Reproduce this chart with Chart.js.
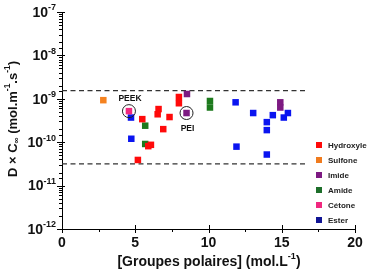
<!DOCTYPE html>
<html>
<head>
<meta charset="utf-8">
<script src="https://cdn.jsdelivr.net/npm/chart.js@4.4.1/dist/chart.umd.min.js"></script>
<style>
  html, body { margin: 0; padding: 0; background: #fff; }
</style>
</head>
<body>
<canvas id="chart" width="367" height="270"></canvas>
<script>
// values: x = polar groups (mol/L), y = D x Cinf (mol/m/s)
const hydroxyleX = [5.18, 5.48, 5.89, 6.07, 6.59, 6.53, 6.91, 7.34, 7.98, 7.98];
const hydroxyleY = [3.9e-11, 3.4e-10, 8.1e-11, 8.7e-11, 5.8e-10, 4.4e-10, 2.0e-10, 3.8e-10, 1.1e-9, 7.9e-10];
const sulfoneX = [2.82];
const sulfoneY = [9.3e-10];
const imideX = [8.53, 8.5, 14.9, 14.9];
const imideY = [1.29e-9, 4.7e-10, 8.3e-10, 6.3e-10];
const amideX = [5.68, 5.68, 10.1, 10.1];
const amideY = [2.4e-10, 9.1e-11, 8.9e-10, 6.3e-10];
const cetoneX = [4.57];
const cetoneY = [5.2e-10];
const esterX = [4.71, 4.73, 11.85, 11.91, 13.05, 13.98, 13.98, 14.39, 15.14, 15.42, 13.98];
const esterY = [3.7e-10, 1.2e-10, 8.3e-10, 7.9e-11, 4.7e-10, 2.9e-10, 1.9e-10, 4.2e-10, 3.7e-10, 4.7e-10, 5.2e-11];

const limitHigh = 1.54e-9;
const limitLow = 3.16e-11;
const limitXEnd = 16.7;

// annotated polymers: [label, x, y]
const marked = [['PEEK', 4.57, 5.2e-10], ['PEI', 8.5, 4.7e-10]];

const yPowers = [-12, -11, -10, -9, -8, -7];

const FAMILY = {
    hydroxyle: { label: 'Hydroxyle', color: '#ff0a0a', legend: '#ff0a0a' },
    sulfone: { label: 'Sulfone', color: '#f5821f', legend: '#f07b1e' },
    imide: { label: 'Imide', color: '#7d1a82', legend: '#7d1a82' },
    amide: { label: 'Amide', color: '#1d7a1d', legend: '#1d6e2a' },
    cetone: { label: 'Cétone', color: '#f0287f', legend: '#f0287f' },
    ester: { label: 'Ester', color: '#0a14f0', legend: '#101494' },
};

const FONT = "'Liberation Sans', Arial, sans-serif";

function pts(xs, ys) {
    return xs.map((x, i) => ({ x, y: ys[i] }));
}

function family(key, xs, ys) {
    const f = FAMILY[key];
    return {
        type: 'scatter',
        label: f.label,
        data: pts(xs, ys),
        backgroundColor: f.color,
        borderColor: f.color,
        borderWidth: 0,
        pointStyle: 'rect',
        pointRadius: 4.6,
        legendColor: f.legend,
    };
}

function dashed(y) {
    return {
        type: 'line',
        label: '',
        data: [{ x: 0, y }, { x: limitXEnd, y }],
        borderColor: '#333',
        borderWidth: 1.2,
        borderDash: [5, 3.5],
        pointRadius: 0,
        fill: false,
        isGuide: true,
    };
}

// draws text runs with super/subscripts, centred on (0,0) of current transform
function drawRuns(ctx, runs, size) {
    let total = 0;
    runs.forEach(r => {
        ctx.font = `bold ${r.s ? size * 0.65 : size}px ${FONT}`;
        r.w = ctx.measureText(r.t).width;
        total += r.w;
    });
    let x = -total / 2;
    runs.forEach(r => {
        ctx.font = `bold ${r.s ? size * 0.65 : size}px ${FONT}`;
        let dy = 0;
        if (r.s === 'sup') dy = -size * 0.38;
        if (r.s === 'sub') dy = size * 0.25;
        ctx.fillText(r.t, x, dy);
        x += r.w;
    });
}

function isPow10(v) {
    const l = Math.log10(v);
    return Math.abs(l - Math.round(l)) < 1e-6;
}

const extras = {
    id: 'extras',
    afterDraw(chart) {
        const ctx = chart.ctx;
        const xs = chart.scales.x;
        const ys = chart.scales.y;
        ctx.save();

        // tick marks: major ones cross the axis, minor ones sit outside
        ctx.strokeStyle = '#000';
        ctx.lineWidth = 1;
        ctx.beginPath();
        xs.ticks.forEach(t => {
            const px = Math.round(xs.getPixelForValue(t.value)) + 0.5;
            const major = t.value % 5 === 0;
            ctx.moveTo(px, xs.top + (major ? -4 : 0));
            ctx.lineTo(px, xs.top + (major ? 4 : 3));
        });
        ys.ticks.forEach(t => {
            const py = Math.round(ys.getPixelForValue(t.value)) + 0.5;
            const major = isPow10(t.value);
            ctx.moveTo(ys.right + (major ? 3 : 0), py);
            ctx.lineTo(ys.right - (major ? 5 : 3), py);
        });
        ctx.stroke();

        ctx.fillStyle = '#111';
        ctx.textBaseline = 'middle';

        // y tick labels 10^n
        yPowers.forEach(p => {
            const y = ys.getPixelForValue(Math.pow(10, p));
            const sup = String(p);
            ctx.font = `bold 9px ${FONT}`;
            const wSup = ctx.measureText(sup).width;
            ctx.font = `bold 14px ${FONT}`;
            const wBase = ctx.measureText('10').width;
            const right = ys.right - 6;
            ctx.textAlign = 'left';
            ctx.fillText('10', right - wSup - wBase, y + 1);
            ctx.font = `bold 9px ${FONT}`;
            ctx.fillText(sup, right - wSup, y - 4);
        });

        // PEEK / PEI circles and labels
        marked.forEach(([name, mx, my]) => {
            const px = xs.getPixelForValue(mx);
            const py = ys.getPixelForValue(my);
            ctx.beginPath();
            ctx.arc(px, py, 6.5, 0, Math.PI * 2);
            ctx.strokeStyle = '#222';
            ctx.lineWidth = 1;
            ctx.stroke();
            ctx.font = `bold 8.5px ${FONT}`;
            ctx.textAlign = 'center';
            const dy = name === 'PEEK' ? -12 : 16;
            ctx.fillText(name, px + 1, py + dy);
        });

        // legend, bottom right inside the plot
        const fams = chart.data.datasets.filter(d => !d.isGuide);
        fams.forEach((d, i) => {
            const cy = 145 + i * 15;
            ctx.fillStyle = d.legendColor;
            ctx.fillRect(316, cy - 3, 6, 6);
            ctx.fillStyle = '#222';
            ctx.font = `bold 8px ${FONT}`;
            ctx.textAlign = 'left';
            ctx.fillText(d.label, 328, cy + 0.5);
        });

        // x axis title
        ctx.fillStyle = '#111';
        ctx.textAlign = 'left';
        ctx.save();
        ctx.translate(209, 262);
        drawRuns(ctx, [
            { t: '[Groupes polaires] (mol.L' },
            { t: '-1', s: 'sup' },
            { t: ')' },
        ], 14);
        ctx.restore();

        // y axis title
        ctx.save();
        ctx.translate(13, 119);
        ctx.rotate(-Math.PI / 2);
        drawRuns(ctx, [
            { t: 'D × C' },
            { t: '∞', s: 'sub' },
            { t: ' (mol.m' },
            { t: '-1', s: 'sup' },
            { t: '.s' },
            { t: '-1', s: 'sup' },
            { t: ')' },
        ], 13);
        ctx.restore();

        ctx.restore();
    },
};

new Chart(document.getElementById('chart'), {
    data: {
        datasets: [
            family('hydroxyle', hydroxyleX, hydroxyleY),
            family('sulfone', sulfoneX, sulfoneY),
            family('imide', imideX, imideY),
            family('amide', amideX, amideY),
            family('cetone', cetoneX, cetoneY),
            family('ester', esterX, esterY),
            dashed(limitHigh),
            dashed(limitLow),
        ],
    },
    options: {
        responsive: false,
        devicePixelRatio: 1,
        animation: false,
        layout: { padding: { top: 12, right: 12, left: 0, bottom: 0 } },
        scales: {
            x: {
                type: 'linear',
                min: 0,
                max: 20,
                ticks: {
                    stepSize: 2.5,
                    autoSkip: false,
                    maxRotation: 0,
                    padding: 2,
                    color: '#111',
                    font: { family: FONT, size: 14, weight: 'bold' },
                    callback: (v) => (v % 5 === 0 ? v : ''),
                },
                // the library's own tick marks are hidden; the plugin draws them
                grid: { drawOnChartArea: false, tickLength: 4, tickColor: 'rgba(0,0,0,0)' },
                border: { color: '#000', width: 1 },
                afterFit: (s) => { s.height = 41; },
            },
            y: {
                type: 'logarithmic',
                min: 1e-12,
                max: 1e-7,
                ticks: {
                    autoSkip: false,
                    callback: () => '',
                },
                grid: { drawOnChartArea: false, drawTicks: false },
                border: { color: '#000', width: 1 },
                afterFit: (s) => { s.width = 62; },
            },
        },
        plugins: {
            legend: { display: false },
            tooltip: { enabled: false },
        },
    },
    plugins: [extras],
});
</script>
</body>
</html>
